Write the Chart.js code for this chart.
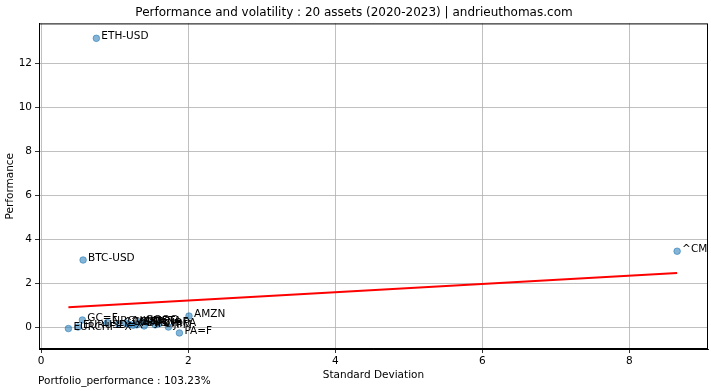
<!DOCTYPE html>
<html lang="en">
<head>
<meta charset="UTF-8">
<title>Performance and volatility</title>
<style>
  html, body { margin: 0; padding: 0; background: #fff; }
  #wrap { width: 711px; height: 391px; }
</style>
</head>
<body>
<div id="wrap"><canvas id="myChart"></canvas></div>
<script src="https://cdn.jsdelivr.net/npm/chart.js"></script>
<script>
// values
const assets = ['ETH-USD', 'BTC-USD', '^CMC200', 'AMZN', 'PA=F', 'JPM', 'GC=F', 'EURCHF=X', 'EURUSD=X', 'NRG',
                '^GSPC', 'MSFT', 'AAPL', 'GOOG', 'META', '^FCHI', '^DJI', 'SI=F', 'BNP.PA', '^IXIC']
const stdDev = [0.75, 0.57, 8.65, 2.01, 1.88, 1.73, 0.56, 0.37, 0.50, 0.90,
                1.05, 1.20, 1.30, 1.35, 1.45, 1.40, 1.25, 1.60, 1.55, 1.15]
const perf = [13.14, 3.05, 3.45, 0.50, -0.27, 0.00, 0.32, -0.07, 0.00, 0.20,
              0.15, 0.12, 0.10, 0.22, 0.20, 0.05, 0.08, 0.15, 0.10, 0.18]
const trendX = [0.37, 8.65]
const trendY = [0.90, 2.46]
const xTicks = [0, 2, 4, 6, 8]
const yTicks = [0, 2, 4, 6, 8, 10, 12]
const footText = 'Portfolio_performance : 103.23%'

const font = 'DejaVu Sans'
const diagramCanvas = document.querySelector('#myChart')

const points = stdDev.map((v, i) => ({ x: v, y: perf[i] }))
const trend = trendX.map((v, i) => ({ x: v, y: trendY[i] }))

// labels next to points, frame round the plot, note at the bottom
const extras = {
  id: 'extras',
  afterDatasetsDraw(chart) {
    const ctx = chart.ctx
    const a = chart.chartArea
    const meta = chart.getDatasetMeta(1)
    ctx.save()
    ctx.beginPath()
    ctx.rect(a.left, a.top, a.right - a.left, a.bottom - a.top)
    ctx.clip()
    ctx.fillStyle = '#000'
    ctx.font = '10.5px "' + font + '"'
    ctx.textBaseline = 'alphabetic'
    meta.data.forEach((el, i) => {
      ctx.fillText(assets[i], el.x + 5, el.y + 1)
    })
    ctx.restore()

    ctx.save()
    ctx.strokeStyle = '#000'
    ctx.lineWidth = 1
    ctx.strokeRect(a.left + 0.5, a.top + 0.5, a.right - a.left - 1, a.bottom - a.top - 1)
    ctx.fillStyle = '#000'
    ctx.font = '10.5px "' + font + '"'
    ctx.textBaseline = 'alphabetic'
    ctx.fillText(footText, a.left - 1, 384)
    ctx.restore()
  }
}

new Chart(diagramCanvas, {
  type: 'scatter',
  data: {
    datasets: [{
      type: 'line',
      data: trend,
      borderColor: '#ff0000',
      borderWidth: 2,
      pointRadius: 0,
      fill: false
    }, {
      data: points,
      backgroundColor: 'rgba(31,119,180,0.55)',
      borderColor: 'rgba(31,119,180,0.55)',
      borderWidth: 1,
      pointRadius: 3.3
    }]
  },
  options: {
    responsive: true,
    maintainAspectRatio: false,
    animation: false,
    layout: { autoPadding: false, padding: { left: 0, right: 3, top: 0, bottom: 9 } },
    plugins: {
      legend: { display: false },
      tooltip: { enabled: false },
      title: {
        display: true,
        text: 'Performance and volatility : 20 assets (2020-2023) | andrieuthomas.com',
        color: '#000',
        font: { family: font, size: 12, weight: 'normal' },
        padding: { top: 6, bottom: 3 }
      }
    },
    scales: {
      x: {
        type: 'linear',
        min: -0.03,
        max: 9.07,
        afterBuildTicks: s => { s.ticks = xTicks.map(v => ({ value: v })) },
        afterFit: s => { s.height = 33 },
        grid: { color: '#b0b0b0', lineWidth: 0.8, tickColor: '#000', tickLength: 4 },
        border: { color: '#000' },
        ticks: { color: '#000', font: { family: font, size: 10.5 }, padding: 2, maxRotation: 0 },
        title: { display: true, text: 'Standard Deviation', color: '#000', font: { family: font, size: 10.5 }, padding: { top: 2, bottom: 0 } }
      },
      y: {
        type: 'linear',
        min: -1,
        max: 13.82,
        afterBuildTicks: s => { s.ticks = yTicks.map(v => ({ value: v })) },
        afterFit: s => { s.width = 39 },
        grid: { color: '#b0b0b0', lineWidth: 0.8, tickColor: '#000', tickLength: 4 },
        border: { color: '#000' },
        ticks: { color: '#000', font: { family: font, size: 10.5 }, padding: 3 },
        title: { display: true, text: 'Performance', color: '#000', font: { family: font, size: 10.5 }, padding: { bottom: 2 } }
      }
    }
  },
  plugins: [extras]
})
</script>
</body>
</html>
